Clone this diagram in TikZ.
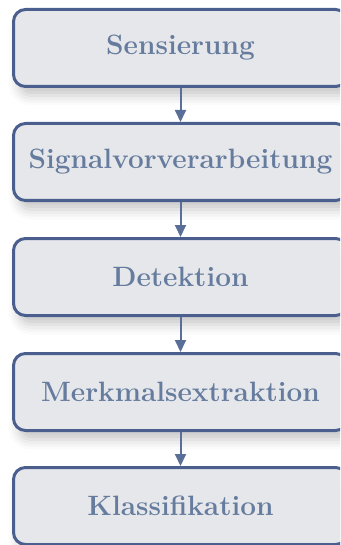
\documentclass[tikz,border=0pt]{standalone}
\usetikzlibrary{shadows.blur,arrows.meta}
\definecolor{boxfill}{HTML}{E6E7EA}
\definecolor{boxdraw}{HTML}{4A5F8E}
\definecolor{txtcol}{HTML}{667C9E}
\definecolor{arrcol}{HTML}{5A6F98}
\begin{document}
\begin{tikzpicture}[x=1pt,y=-1pt,
  stagebox/.style={draw=boxdraw, line width=3pt, fill=boxfill, rounded corners=12pt,
    minimum width=334pt, minimum height=77pt, inner sep=0pt,
    text=txtcol, font=\fontsize{28}{32}\selectfont\bfseries,
    blur shadow={shadow xshift=5pt, shadow yshift=-9pt, shadow blur radius=10pt, shadow opacity=22}},
  flow/.style={draw=arrcol, line width=2pt, -{Triangle[length=12pt,width=11pt]}}]
\useasboundingbox (0,0) rectangle (340,545);
\clip (0,0) rectangle (340,545);
\node[stagebox] (s1) at (180.5,48) {Sensierung};
\node[stagebox] (s2) at (180.5,162) {Signalvorverarbeitung};
\node[stagebox] (s3) at (180.5,277) {Detektion};
\node[stagebox] (s4) at (180.5,392) {Merkmalsextraktion};
\node[stagebox] (s5) at (180.5,506) {Klassifikation};
\draw[flow] (s1.south) -- (s2.north);
\draw[flow] (s2.south) -- (s3.north);
\draw[flow] (s3.south) -- (s4.north);
\draw[flow] (s4.south) -- (s5.north);
\end{tikzpicture}
\end{document}
